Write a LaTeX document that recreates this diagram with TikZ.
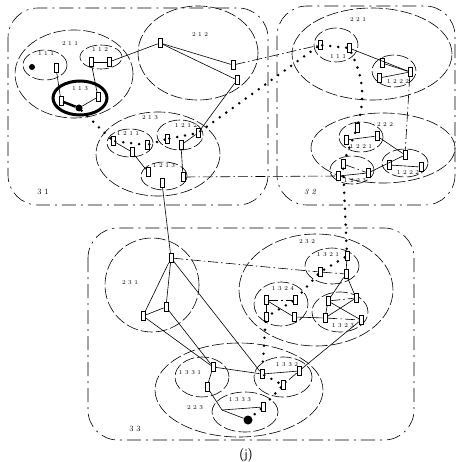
\documentclass[tikz,border=0pt]{standalone}
\usepackage{tikz}
\usetikzlibrary{shapes.geometric}

\begin{document}
\begin{tikzpicture}[
        x=1pt, y=-1pt,
        cluster/.style={
            draw,
            rounded corners=30pt,
            line width=0.6pt,
            dash pattern=on 14pt off 5pt on 2pt off 5pt
        },
        group/.style={
            draw,
            ellipse,
            inner sep=0pt,
            line width=0.6pt,
            dash pattern=on 12pt off 3pt
        },
        cell/.style={
            draw,
            fill=white,
            line width=0.6pt,
            minimum width=4pt,
            minimum height=9pt,
            inner sep=0pt
        },
        blob/.style={circle, fill=black, inner sep=0pt, minimum size=7pt},
        lbl/.style={inner sep=0pt, font=\fontsize{6}{6}\selectfont},
        boxlbl/.style={inner sep=0pt, font=\fontsize{8}{8}\selectfont},
        wire/.style={line width=0.6pt},
        link/.style={line width=0.6pt, dash pattern=on 10pt off 3pt on 1.5pt off 3pt},
        trace/.style={line width=2.8pt, line cap=round, dash pattern=on 0pt off 8pt}
    ]
        \useasboundingbox (0,0) rectangle (460,462);

        \draw[cluster] (8,8) rectangle (268,205);
        \draw[cluster] (277,6) rectangle (455,205);
        \draw[cluster] (88,228) rectangle (414,440);

        \node[group, minimum width=118pt, minimum height=88pt] (g211) at (74,74) {};
        \node[group, minimum width=44pt, minimum height=30pt] (g111) at (45,65) {};
        \node[group, minimum width=42pt, minimum height=24pt] (g112) at (101,57) {};
        \node[group, solid, line width=3pt, minimum width=54pt, minimum height=34pt] (g113) at (80,98) {};
        \node[group, minimum width=120pt, minimum height=94pt] (g212) at (198,53) {};
        \node[group, minimum width=124pt, minimum height=84pt] (g213) at (158,154) {};
        \node[group, minimum width=46pt, minimum height=28pt] (g1211) at (130,143) {};
        \node[group, minimum width=46pt, minimum height=30pt] (g1212) at (180,135) {};
        \node[group, minimum width=46pt, minimum height=28pt] (g1213) at (164,176) {};

        \node[group, minimum width=160pt, minimum height=92pt] (g221) at (372,54) {};
        \node[group, minimum width=44pt, minimum height=34pt] (g2211) at (336,45) {};
        \node[group, minimum width=44pt, minimum height=32pt] (g2212) at (394,71) {};
        \node[group, minimum width=144pt, minimum height=70pt] (g222) at (383,148) {};
        \node[group, minimum width=44pt, minimum height=30pt] (g2221) at (361,137) {};
        \node[group, minimum width=44pt, minimum height=28pt] (g2223) at (352,170) {};
        \node[group, minimum width=46pt, minimum height=28pt] (g2222) at (405,163) {};

        \node[group, minimum width=94pt, minimum height=94pt] (g231) at (152,285) {};
        \node[group, minimum width=154pt, minimum height=112pt] (g232) at (316,290) {};
        \node[group, minimum width=54pt, minimum height=36pt] (g1321) at (332,266) {};
        \node[group, minimum width=54pt, minimum height=44pt] (g1324) at (281,304) {};
        \node[group, minimum width=56pt, minimum height=40pt] (g1323) at (340,312) {};
        \node[group, minimum width=168pt, minimum height=94pt] (g233) at (239,390) {};
        \node[group, minimum width=54pt, minimum height=40pt] (g1331) at (202,377) {};
        \node[group, minimum width=58pt, minimum height=40pt] (g1332) at (283,377) {};
        \node[group, minimum width=66pt, minimum height=40pt] (g1333) at (245,412) {};

        \node[boxlbl] (t31) at (43,192) {3 1};
        \node[boxlbl, font=\fontsize{8}{8}\selectfont\itshape] (t32) at (310,192) {3 2};
        \node[boxlbl] (t33) at (135,429) {3 3};
        \node[inner sep=0pt, font=\sffamily\fontsize{13}{13}\selectfont] (tj) at (246,455) {(j)};

        \node[lbl] (t211) at (70,44) {2 1 1};
        \node[lbl] (t111) at (46,54) {1 1 1};
        \node[lbl] (t112) at (100,50) {1 1 2};
        \node[lbl] (t113) at (80,89) {1 1 3};
        \node[lbl] (t212) at (200,35) {2 1 2};
        \node[lbl] (t213) at (150,118) {2 1 3};
        \node[lbl] (t1211) at (128,134) {1 2 1 1};
        \node[lbl] (t1212) at (186,126) {1 2 1 2};
        \node[lbl] (t1213) at (164,166) {1 2 1 3};
        \node[lbl] (t221) at (358,20) {2 2 1};
        \node[lbl] (t2211) at (338,57) {1 1 1};
        \node[lbl] (t2212) at (398,82) {1 2 2 2};
        \node[lbl] (t222) at (385,125) {2 2 2};
        \node[lbl] (t2221) at (361,147) {1 2 2 1};
        \node[lbl] (t2223) at (355,181) {1 2 2 3};
        \node[lbl] (t2222) at (408,173) {1 2 2 2};
        \node[lbl] (t231) at (130,283) {2 3 1};
        \node[lbl] (t232) at (307,242) {2 3 2};
        \node[lbl] (t1321) at (328,255) {1 3 2 1};
        \node[lbl] (t1324) at (283,289) {1 3 2 4};
        \node[lbl] (t1323) at (343,326) {1 3 2 3};
        \node[lbl] (t233) at (195,408) {2 2 3};
        \node[lbl] (t1331) at (190,373) {1 3 3 1};
        \node[lbl] (t1332) at (287,365) {1 3 3 2};
        \node[lbl] (t1333) at (240,400) {1 3 3 3};

        \node[blob, minimum size=6pt] (d1) at (32,67) {};
        \node[blob] (d2) at (79,108) {};
        \node[blob, minimum size=9pt] (d3) at (248,420) {};
        \coordinate (k) at (222,410);

        \node[cell] (r1) at (56,68) {};
        \node[cell] (r2) at (91,62) {};
        \node[cell] (r3) at (109,62) {};
        \node[cell] (r4) at (61,101) {};
        \node[cell] (r5) at (98,97) {};
        \node[cell] (r6) at (160,43) {};
        \node[cell] (r7) at (233,65) {};
        \node[cell] (r8) at (237,80) {};
        \node[cell] (r9) at (113,141) {};
        \node[cell] (r10) at (132,152) {};
        \node[cell] (r11) at (147,145) {};
        \node[cell] (r12) at (167,139) {};
        \node[cell] (r13) at (181,145) {};
        \node[cell] (r14) at (198,133) {};
        \node[cell] (r15) at (148,172) {};
        \node[cell] (r16) at (162,183) {};
        \node[cell] (r17) at (183,177) {};
        \node[cell] (r18) at (320,45) {};
        \node[cell] (r19) at (349,48) {};
        \node[cell] (r20) at (382,63) {};
        \node[cell] (r21) at (379,78) {};
        \node[cell] (r22) at (410,72) {};
        \node[cell] (r23) at (357,128) {};
        \node[cell] (r24) at (346,140) {};
        \node[cell] (r25) at (377,136) {};
        \node[cell] (r26) at (343,164) {};
        \node[cell] (r27) at (338,176) {};
        \node[cell] (r28) at (368,173) {};
        \node[cell] (r29) at (405,155) {};
        \node[cell] (r30) at (389,165) {};
        \node[cell] (r31) at (421,167) {};
        \node[cell] (r32) at (171,258) {};
        \node[cell] (r33) at (166,307) {};
        \node[cell] (r34) at (143,316) {};
        \node[cell] (r35) at (320,272) {};
        \node[cell] (r36) at (347,256) {};
        \node[cell] (r37) at (346,274) {};
        \node[cell] (r38) at (266,300) {};
        \node[cell] (r39) at (295,300) {};
        \node[cell] (r40) at (266,317) {};
        \node[cell] (r41) at (294,317) {};
        \node[cell] (r42) at (328,301) {};
        \node[cell] (r43) at (356,298) {};
        \node[cell] (r44) at (325,318) {};
        \node[cell] (r45) at (361,320) {};
        \node[cell] (r46) at (213,367) {};
        \node[cell] (r47) at (207,387) {};
        \node[cell] (r48) at (262,374) {};
        \node[cell] (r49) at (299,371) {};
        \node[cell] (r50) at (283,385) {};
        \node[cell] (r51) at (263,407) {};

        \draw[wire] (r1) -- (r4);
        \draw[wire] (r2) -- (r5);
        \draw[wire] (r2) -- (r3);
        \draw[wire] (r3) -- (r6);
        \draw[wire] (d2) -- (r5);
        \draw[line width=2.5pt] (r4) -- (d2);
        \draw[wire] (r6) -- (r7);
        \draw[wire] (r6) -- (r8);
        \draw[wire] (r8) -- (r14);
        \draw[wire] (r9) -- (r10);
        \draw[wire] (r10) -- (r15);
        \draw[wire] (r13) -- (r14);
        \draw[wire] (r13) -- (r17);
        \draw[wire] (r16) -- (r32);
        \draw[link] (r7) -- (r18);
        \draw[link] (r17) -- (r27);

        \draw[wire] (r19) -- (r22);
        \draw[wire] (r20) -- (r22);
        \draw[wire] (r21) -- (r22);
        \draw[link] (r22) -- (r29);
        \draw[wire] (r24) -- (r25);
        \draw[wire] (r25) -- (r29);
        \draw[wire] (r28) -- (r29);
        \draw[wire] (r27) -- (r28);
        \draw[link] (r26) -- (r28);
        \draw[wire] (r30) -- (r31);

        \draw[wire] (r32) -- (r34);
        \draw[wire] (r32) -- (r33);
        \draw[wire] (r34) -- (r33);
        \draw[link] (r32) -- (r35);
        \draw[wire] (r32) -- (r48);
        \draw[wire] (r34) -- (r46);
        \draw[wire] (r33) -- (r46);
        \draw[wire] (r46) -- (r48);
        \draw[wire] (r46) -- (r47);
        \draw[wire] (r47) -- (k) -- (d3);
        \draw[wire] (k) -- (r51);
        \draw[wire] (r48) -- (r49);
        \draw[link] (r49) -- (r50);
        \draw[wire] (r49) -- (r45);
        \draw[wire] (r36) -- (r37);
        \draw[link] (r35) -- (r37);
        \draw[wire] (r37) -- (r42);
        \draw[wire] (r37) -- (r43);
        \draw[wire] (r42) -- (r45);
        \draw[wire] (r43) -- (r44);
        \draw[wire] (r42) -- (r44);
        \draw[link] (r42) -- (r43);
        \draw[link] (r44) -- (r45);
        \draw[link] (r38) -- (r39);
        \draw[wire] (r38) -- (r40);
        \draw[wire] (r38) -- (r41);
        \draw[wire] (r41) -- (r44);

        \draw[trace] (d2) -- (r9);
        \draw[trace] (r9) -- (r11);
        \draw[trace] (r11) -- (r12);
        \draw[trace] (r12) -- (r14);
        \draw[trace] (r14) -- (r18);
        \draw[trace] (r18) -- (r19);
        \draw[trace] (r19) to[bend left=20] (r23);
        \draw[trace] (r23) -- (r26);
        \draw[trace] (r26) -- (r36);
        \draw[trace] (r36) -- (r35);
        \draw[trace] (r35) -- (r39);
        \draw[trace] (r39) -- (r40);
        \draw[trace] (r40) -- (r48);
        \draw[trace] (r48) -- (r50);
        \draw[trace] (r50) -- (r51);
        \draw[trace] (r51) -- (d3);
    \end{tikzpicture}
\end{document}
